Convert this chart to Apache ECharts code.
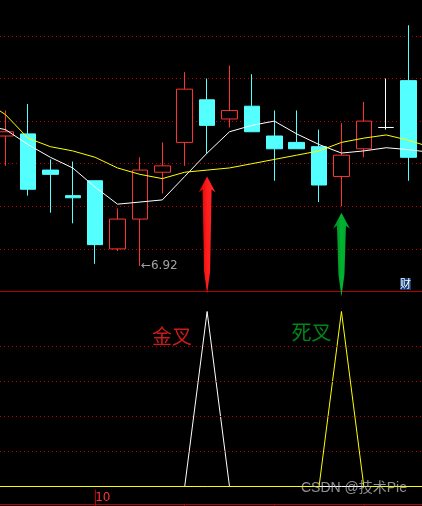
<!DOCTYPE html>
<html><head><meta charset="utf-8">
<script src="https://cdn.jsdelivr.net/npm/echarts@6/dist/echarts.min.js"></script>
<style>html,body{margin:0;padding:0;background:#000;}#c{width:422px;height:506px;}</style>
</head><body><div id="c"></div>
<script>
// ---- data (slot 0 and slot 20 lie just outside the visible window) ----
const categories = ['p','0','1','2','3','4','5','6','7','8','9','10','11','12','13','14','15','16','17','18','n'];
const tickLabels = ['','','','','','10','','','','','','','','','','','','','','',''];
const opens  = [null, 7.53, 7.54, 7.37, 7.25, 7.32, 7.00, 7.14, 7.36, 7.50, 7.70, 7.61, 7.67, 7.53, 7.50, 7.48, 7.34, 7.47, 7.57, 7.79, null];
const closes = [null, 7.55, 7.28, 7.35, 7.24, 7.02, 7.14, 7.37, 7.39, 7.75, 7.58, 7.65, 7.55, 7.47, 7.47, 7.30, 7.44, 7.60, 7.57, 7.43, null];
const lows   = [null, 7.39, 7.25, 7.17, 7.12, 6.93, 6.99, 6.92, 7.26, 7.39, 7.45, 7.57, 7.55, 7.32, 7.47, 7.22, 7.20, 7.43, 7.56, 7.32, null];
const highs  = [null, 7.65, 7.68, 7.42, 7.41, 7.32, 7.19, 7.43, 7.50, 7.83, 7.80, 7.86, 7.82, 7.65, 7.65, 7.56, 7.59, 7.69, 7.80, 8.05, null];
const ma5    = [7.58, 7.56, 7.49, 7.43, 7.38, 7.29, 7.21, 7.22, 7.23, 7.34, 7.45, 7.55, 7.58, 7.60, 7.54, 7.49, 7.45, 7.46, 7.475, 7.466, 7.453];
const ma10   = [7.70, 7.63, 7.52, 7.48, 7.46, 7.43, 7.38, 7.35, 7.33, 7.36, 7.37, 7.38, 7.40, 7.42, 7.44, 7.46, 7.50, 7.52, 7.535, 7.51, 7.477];
const goldCross = [0,0,0,0,0,0,0,0,0,0,1,0,0,0,0,0,0,0,0,0,0];
const deadCross = [0,0,0,0,0,0,0,0,0,0,0,0,0,0,0,0,1,0,0,0,0];
const arrowSlots = [10, 16];
const arrowTips  = [7.34, 7.17];
const arrowBases = [6.79, 6.775];
const crossTexts = ['金叉', '死叉'];
const crossTextLevels = [0.857, 0.88];
const lowerGridValues = [0.2, 0.4, 0.6, 0.8];

// ---- build ----
const candleData = opens.map((o, i) => o == null ? '-' : [o, closes[i], lows[i], highs[i]]);
let minIdx = 0, minVal = Infinity;
lows.forEach((v, i) => { if (v != null && v < minVal) { minVal = v; minIdx = i; } });

const RED = '#ff3232', CYAN = '#54ffff', GRID_RED = '#c00000', LINE_RED = '#b40000';
const dotted = { color: GRID_RED, width: 1, type: [1, 3] };
const gl = -28, gw = 470.2;

const chart = echarts.init(document.getElementById('c'), null, { renderer: 'canvas' });
chart.setOption({
  backgroundColor: '#000000',
  animation: false,
  textStyle: { fontFamily: 'DejaVu Sans, Noto Sans CJK SC, sans-serif' },
  title: [
    { text: '财', left: 400, top: 278, padding: [0, 0, 0, 0], backgroundColor: '#123a76',
      textStyle: { color: '#ffffff', fontSize: 11, fontWeight: 'normal', lineHeight: 12,
        fontFamily: 'Noto Sans CJK SC' } },
    { text: 'CSDN @技术Pie', left: 301, top: 481, padding: 0,
      textStyle: { color: 'rgba(200,200,200,0.72)', fontSize: 14, fontWeight: 'normal',
        fontFamily: 'Liberation Sans, Noto Sans CJK SC' } }
  ],
  grid: [
    { left: gl, width: gw, top: -6.7, height: 298.2, outerBoundsMode: 'none', containLabel: false },
    { left: gl, width: gw, top: 294, height: 192.5, outerBoundsMode: 'none', containLabel: false },
    { left: gl, width: gw, top: 489.5, height: 15, outerBoundsMode: 'none', containLabel: false }
  ],
  xAxis: [
    { type: 'category', gridIndex: 0, data: categories,
      axisLine: { show: true, lineStyle: { color: LINE_RED, width: 1 } },
      axisTick: { show: false }, axisLabel: { show: false }, splitLine: { show: false } },
    { type: 'category', gridIndex: 1, data: categories, show: false },
    { type: 'category', gridIndex: 2, data: categories, position: 'top',
      axisLine: { show: true, lineStyle: { color: LINE_RED, width: 1 } },
      axisTick: { show: true, inside: true, length: 2, alignWithLabel: true,
        interval: (i) => i >= 5 && (i - 5) % 4 === 0, lineStyle: { color: LINE_RED } },
      axisLabel: { show: true, inside: true, margin: 2, align: 'left', color: RED, fontSize: 12,
        interval: (i) => tickLabels[i] !== '', formatter: (v, i) => tickLabels[i] } },
    { type: 'category', gridIndex: 2, data: categories, position: 'bottom',
      axisLine: { show: true, lineStyle: { color: LINE_RED, width: 1 } },
      axisTick: { show: true, inside: true, length: 15, alignWithLabel: true,
        interval: (i) => tickLabels[i] !== '', lineStyle: { color: LINE_RED } },
      axisLabel: { show: false } }
  ],
  yAxis: [
    { type: 'value', gridIndex: 0, min: 6.8, max: 8.2, interval: 0.2, scale: true,
      axisLine: { show: false }, axisTick: { show: false }, axisLabel: { show: false },
      splitLine: { show: true, lineStyle: dotted } },
    { type: 'value', gridIndex: 1, min: 0, max: 1.1,
      axisLine: { show: false }, axisTick: { show: false }, axisLabel: { show: false },
      splitLine: { show: false } },
    { type: 'value', gridIndex: 2, show: false, min: 0, max: 1 }
  ],
  series: [
    { type: 'candlestick', xAxisIndex: 0, yAxisIndex: 0, data: candleData, barWidth: 16, z: 2,
      itemStyle: { color: '#000000', color0: CYAN, borderColor: RED, borderColor0: CYAN,
        borderColorDoji: '#ffffff', borderWidth: 1 } },
    { type: 'line', xAxisIndex: 0, yAxisIndex: 0, data: ma5, symbol: 'none', z: 3,
      lineStyle: { color: '#ffffff', width: 1 } },
    { type: 'line', xAxisIndex: 0, yAxisIndex: 0, data: ma10, symbol: 'none', z: 3,
      lineStyle: { color: '#ffff00', width: 1 } },
    { type: 'scatter', xAxisIndex: 0, yAxisIndex: 0, data: [[minIdx, minVal]], symbolSize: 0, z: 4,
      label: { show: true, position: 'right', distance: 1, color: '#c8c8c8', fontSize: 12,
        fontFamily: 'DejaVu Sans', formatter: (p) => '←' + p.value[1].toFixed(2) } },
    { type: 'custom', xAxisIndex: 0, yAxisIndex: 0, z: 5, clip: false,
      data: arrowSlots.map((s, i) => [s, arrowTips[i], arrowBases[i]]),
      renderItem: (params, api) => {
        const tip = api.coord([api.value(0), api.value(1)]);
        const base = api.coord([api.value(0), api.value(2)]);
        const cx = tip[0], ty = tip[1], by = base[1];
        const pts = [[cx, ty], [cx + 8.5, ty + 16], [cx + 4.5, ty + 13], [cx + 3, by - 22], [cx, by],
          [cx - 3, by - 22], [cx - 4.5, ty + 13], [cx - 8.5, ty + 16]];
        const isRed = params.dataIndex === 0;
        const fill = new echarts.graphic.LinearGradient(0, 0, 1, 0, isRed
          ? [{ offset: 0, color: '#c80000' }, { offset: 0.5, color: '#ff1c1c' }, { offset: 1, color: '#ff2a2a' }]
          : [{ offset: 0, color: '#007a1e' }, { offset: 0.5, color: '#00b432' }, { offset: 1, color: '#00a02c' }]);
        return { type: 'polygon', shape: { points: pts }, style: { fill: fill } };
      } },
    { type: 'line', xAxisIndex: 1, yAxisIndex: 1, data: categories.map(() => '-'), symbol: 'none', z: 1,
      markLine: { silent: true, symbol: 'none', label: { show: false }, lineStyle: dotted,
        data: lowerGridValues.map(v => ({ yAxis: v })) } },
    { type: 'line', xAxisIndex: 1, yAxisIndex: 1, data: goldCross, symbol: 'none', z: 3,
      lineStyle: { color: '#ffffff', width: 1 } },
    { type: 'line', xAxisIndex: 1, yAxisIndex: 1, data: deadCross, symbol: 'none', z: 4,
      lineStyle: { color: '#ffff00', width: 1 } },
    { type: 'scatter', xAxisIndex: 1, yAxisIndex: 1, symbolSize: 0, z: 5,
      data: arrowSlots.map((s, i) => ({ value: [s, crossTextLevels[i]],
        label: { show: true, position: 'left', distance: i === 0 ? 15 : 10, formatter: crossTexts[i],
          color: i === 0 ? '#ff2020' : '#00a81e', fontSize: 20, fontFamily: 'Noto Sans CJK SC' } })) }
  ]
});
</script></body></html>
